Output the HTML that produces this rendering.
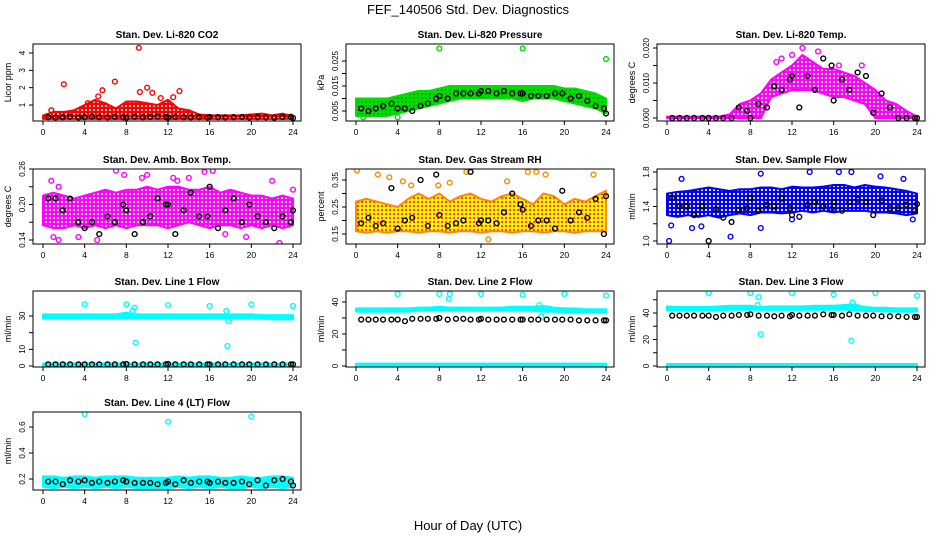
<!DOCTYPE html>
<html><head><meta charset="utf-8"><style>
body{margin:0;background:#fff;}
svg text{font-family:"Liberation Sans",sans-serif;}
</style></head><body>
<svg id="c" width="936" height="540" xmlns="http://www.w3.org/2000/svg">
<defs>
<pattern id="p-red" width="4" height="4" patternUnits="userSpaceOnUse"><rect width="4" height="4" fill="#f00"/><circle cx="2" cy="2" r="1" fill="#fff"/></pattern>
<pattern id="p-green" width="4" height="4" patternUnits="userSpaceOnUse"><rect width="4" height="4" fill="#0d0"/><circle cx="2" cy="2" r="0.7" fill="#050"/></pattern>
<pattern id="p-mag" width="4" height="4" patternUnits="userSpaceOnUse"><rect width="4" height="4" fill="#f0f"/><circle cx="2" cy="2" r="1.1" fill="#fff"/></pattern>
<pattern id="p-orange" width="4" height="4" patternUnits="userSpaceOnUse"><rect width="4" height="4" fill="#ff0"/><circle cx="2" cy="2" r="1.2" fill="#f33"/></pattern>
<pattern id="p-blue" width="4" height="4" patternUnits="userSpaceOnUse"><rect width="4" height="4" fill="#00f"/><circle cx="2" cy="2" r="1.1" fill="#fff"/></pattern>
<pattern id="p-cyan" width="4" height="4" patternUnits="userSpaceOnUse"><rect width="4" height="4" fill="#0ff"/></pattern>
</defs>
<text x="468" y="14" font-size="13" text-anchor="middle">FEF_140506  Std. Dev. Diagnostics</text>
<text x="468" y="530" font-size="13" text-anchor="middle">Hour of Day (UTC)</text>
</svg>
<script>
const bandH=[0,1,2,3,4,5,6,7,8,9,10,11,12,13,14,15,16,17,18,19,20,21,22,23,24];
const blackH=[0.5,1.2,1.9,2.6,3.4,4,4.7,5.4,6.2,6.9,7.7,8,8.8,9.6,10.3,11,11.8,12,12.7,13.5,14.2,15,15.8,16,16.8,17.5,18.3,19.1,19.8,20.6,21.4,22.2,23,23.8,24];
const xTicks=[0,4,8,12,16,20,24];

const co2Lo=[0.2,0.2,0.2,0.2,0.2,0.2,0.2,0.2,0.2,0.2,0.2,0.2,0.2,0.2,0.2,0.2,0.2,0.2,0.2,0.2,0.2,0.2,0.2,0.2,0.2];
const co2Hi=[0.4,0.6,0.6,0.7,1.0,1.3,1.1,0.8,1.2,1.2,1.1,1.0,1.3,0.8,0.7,0.45,0.4,0.4,0.4,0.4,0.45,0.5,0.4,0.5,0.35];
const co2OutH=[2,6.9,9.2,10,10.5,9.3,5.7,13.1,11.3,5.3,12.5,4.3,0.8];
const co2OutV=[2.2,2.35,4.3,2.0,1.7,1.75,1.85,1.8,1.4,1.5,1.45,1.1,0.7];
const co2Black=[0.3,0.28,0.3,0.32,0.28,0.3,0.33,0.3,0.29,0.31,0.3,0.27,0.32,0.3,0.31,0.33,0.3,0.28,0.31,0.3,0.29,0.3,0.28,0.31,0.3,0.29,0.3,0.31,0.28,0.3,0.29,0.27,0.31,0.32,0.25];

const presLo=[0.003,0.003,0.003,0.003,0.004,0.005,0.006,0.007,0.008,0.009,0.010,0.010,0.010,0.010,0.010,0.010,0.009,0.010,0.010,0.010,0.009,0.008,0.007,0.006,0.004];
const presHi=[0.010,0.010,0.010,0.010,0.011,0.012,0.013,0.013,0.014,0.015,0.015,0.015,0.015,0.015,0.015,0.015,0.015,0.015,0.015,0.015,0.014,0.014,0.013,0.012,0.010];
const presOutH=[8,16,24,0.7,4];
const presOutV=[0.030,0.030,0.0258,0.0025,0.0025];
const presBlack=[0.006,0.005,0.006,0.007,0.008,0.006,0.006,0.005,0.007,0.008,0.010,0.011,0.010,0.012,0.012,0.012,0.012,0.013,0.013,0.012,0.013,0.012,0.012,0.012,0.011,0.011,0.011,0.012,0.012,0.010,0.011,0.009,0.007,0.006,0.004];

const tempLo=[0,0,0,0,0,0,0,0,0,0,0.006,0.007,0.008,0.008,0.008,0.007,0.006,0.006,0.005,0.004,0,0,0,0,0];
const tempHi=[0.0004,0.0004,0.0004,0.0004,0.0004,0.0004,0.001,0.004,0.005,0.007,0.011,0.013,0.015,0.018,0.016,0.014,0.014,0.013,0.012,0.010,0.008,0.005,0.004,0.002,0.0004];
const tempOutH=[13,12,14.5,10.5,11,16.5,18.7];
const tempOutV=[0.020,0.018,0.019,0.016,0.017,0.015,0.015];
const tempBlack=[0,0,0,0,0,0,0,0,0,0.003,0.002,0,0.004,0.003,0.009,0.008,0.011,0.012,0.003,0.012,0.008,0.017,0.015,0.005,0.011,0.008,0.013,0.012,0.0015,0.007,0.003,0,0,0,0];

const ambLo=[0.165,0.16,0.16,0.165,0.16,0.165,0.16,0.165,0.16,0.165,0.165,0.165,0.16,0.165,0.17,0.165,0.16,0.165,0.165,0.16,0.165,0.16,0.165,0.16,0.165];
const ambHi=[0.215,0.22,0.215,0.21,0.215,0.22,0.225,0.22,0.225,0.225,0.23,0.225,0.23,0.23,0.225,0.225,0.23,0.22,0.225,0.22,0.215,0.215,0.21,0.215,0.21];
const ambOutH=[0.8,1.5,1,1.5,3.4,5.2,7,7.8,9.5,10,12.5,12.9,15.5,16.3,17.5,19.5,22,22.7,24,14];
const ambOutV=[0.24,0.23,0.145,0.14,0.145,0.14,0.257,0.25,0.245,0.25,0.245,0.24,0.255,0.257,0.15,0.145,0.24,0.135,0.225,0.245];
const ambBlack=[0.21,0.21,0.19,0.21,0.17,0.16,0.17,0.15,0.18,0.17,0.2,0.19,0.15,0.17,0.18,0.21,0.2,0.2,0.15,0.19,0.22,0.18,0.18,0.23,0.16,0.19,0.21,0.17,0.2,0.18,0.17,0.16,0.18,0.17,0.19];

const rhLo=[0.16,0.155,0.16,0.155,0.16,0.16,0.155,0.16,0.16,0.155,0.16,0.16,0.155,0.16,0.16,0.155,0.16,0.16,0.155,0.16,0.16,0.155,0.16,0.16,0.16];
const rhHi=[0.27,0.28,0.27,0.26,0.25,0.28,0.3,0.28,0.3,0.27,0.29,0.3,0.28,0.27,0.29,0.3,0.28,0.26,0.3,0.29,0.26,0.28,0.27,0.29,0.31];
const rhOutH=[0.1,2.1,4.5,5.3,10.6,12.7,14.5,17.3,18.2,22.8,16.5,9,3.2,7.9];
const rhOutV=[0.385,0.37,0.345,0.33,0.38,0.13,0.345,0.38,0.37,0.37,0.38,0.34,0.36,0.33];
const rhBlack=[0.19,0.21,0.18,0.19,0.32,0.17,0.2,0.21,0.35,0.18,0.37,0.22,0.18,0.19,0.2,0.38,0.19,0.2,0.2,0.19,0.23,0.3,0.26,0.24,0.18,0.2,0.2,0.17,0.31,0.2,0.23,0.21,0.28,0.15,0.29];

const flowLo=[1.3,1.28,1.3,1.28,1.3,1.27,1.3,1.32,1.3,1.33,1.33,1.32,1.33,1.35,1.33,1.35,1.33,1.35,1.35,1.35,1.33,1.33,1.32,1.3,1.32];
const flowHi=[1.55,1.57,1.58,1.6,1.62,1.6,1.58,1.6,1.6,1.62,1.62,1.6,1.63,1.62,1.62,1.63,1.65,1.65,1.62,1.65,1.63,1.62,1.6,1.58,1.55];
const flowOutH=[0.2,0.4,2.4,1.4,6.1,9,9,13.7,16.5,17.7,20.5,22.7,23.6,12,3.3];
const flowOutV=[1.0,1.18,1.15,1.72,1.05,1.78,1.15,1.8,1.8,1.8,1.75,1.72,1.25,1.25,1.17];
const flowBlack=[1.5,1.4,1.4,1.3,1.4,1.0,1.37,1.27,1.22,1.36,1.38,1.5,1.35,1.42,1.4,1.49,1.38,1.3,1.28,1.42,1.45,1.4,1.37,1.45,1.35,1.45,1.48,1.45,1.3,1.47,1.38,1.38,1.42,1.35,1.43];

const l1Lo=[28.5,28.5,28.5,28.5,28.5,28.5,28.5,28.5,28.5,28.5,28.5,28.5,28.5,28.5,28.5,28.5,28.5,28.5,28.5,28.5,28.5,28.5,28,28,28];
const l1Hi=[31,31,31,31,31,31,31,31,32,31,31,31,31,31,31,31,31,31,31,31,31,30.5,30.5,30.5,30.5];
const l1OutH=[4,8,12,16,20,24,8.8,8.9,17.7,17.8,17.6,8.6];
const l1OutV=[37,37,36.5,36,37,36,35,14,12,27,33,33];
const l1Black=[1,1,1,1,1,1,1,1,1,1,1,1.2,1,1,1,1,1,1.2,1,1,1,1,1,1,1,1,1,1,1,1,1,1,1,1,1];

const l2Lo=[34,34,34,34,34,34,34.5,34.5,34.5,34.5,34.5,34.5,34.5,34.5,34.5,34.5,34.5,34.5,34,34,33.5,33.5,33.5,33.5,33.5];
const l2Hi=[36,36,36,36,36,36,36.5,36.5,37,36.5,36.5,36.5,36.5,36.5,36.5,37,37,37,37.5,36.5,36,36,35.5,35.5,35.5];
const l2OutH=[4,8,9,12,16,20,24,8.9,17.6,17.8];
const l2OutV=[45,45,45,45,44.5,45,44,42,38,31];
const l2Black=[29,29,29,29,29,29,28,29.5,29.5,29.5,29.5,30,29,29.5,29.5,29,29,29.5,29,29,29,29,29,29,29,29,29,29,29,29,28.5,28.5,28.5,28.5,28.5];
const l2ZeroLo=[-0.5,-0.5,-0.5,-0.5,-0.5,-0.5,-0.5,-0.5,-0.5,-0.5,-0.5,-0.5,-0.5,-0.5,-0.5,-0.5,-0.5,-0.5,-0.5,-0.5,-0.5,-0.5,-0.5,-0.5,-0.5];
const l2ZeroHi=[1.5,1.5,1.5,1.5,1.5,1.5,1.5,1.5,1.5,1.5,1.5,1.5,1.5,1.5,1.5,1.5,1.5,1.5,1.5,1.5,1.5,1.5,1.5,1.5,1.5];

const l3Lo=[42,42,42,42,42,42,42.5,42.5,42.5,42.5,42.5,42.5,42.5,42.5,42.5,42.5,42.5,42.5,42,41.5,41.5,41,41,41,41];
const l3Hi=[45,44.5,44.5,44.5,44.5,45,45.5,45.5,45.5,44.5,45,45,45,45,45.5,45.5,45.5,46,46.5,44.5,44,44,43.5,43.5,43.5];
const l3OutH=[4,8,12,16,20,24,9,17.7,8.8,17.8,8.7];
const l3OutV=[55,55,55,54,55,53,24,19,52,48,46];
const l3Black=[38,38,38,38,38,38,37,38,38,38.5,38.5,39,38,38,37.5,38,37.5,38.5,38,38,38,39,38.5,38.5,38,39,38,38,38,37.5,37.5,37.5,37,37,37];
const l3ZeroLo=[-0.5,-0.5,-0.5,-0.5,-0.5,-0.5,-0.5,-0.5,-0.5,-0.5,-0.5,-0.5,-0.5,-0.5,-0.5,-0.5,-0.5,-0.5,-0.5,-0.5,-0.5,-0.5,-0.5,-0.5,-0.5];
const l3ZeroHi=[1.5,1.5,1.5,1.5,1.5,1.5,1.5,1.5,1.5,1.5,1.5,1.5,1.5,1.5,1.5,1.5,1.5,1.5,1.5,1.5,1.5,1.5,1.5,1.5,1.5];

const l4Lo=[0.14,0.13,0.14,0.13,0.14,0.13,0.14,0.13,0.14,0.13,0.13,0.13,0.13,0.14,0.13,0.14,0.13,0.14,0.13,0.13,0.14,0.13,0.14,0.13,0.14];
const l4Hi=[0.22,0.22,0.21,0.22,0.22,0.21,0.22,0.22,0.22,0.21,0.21,0.21,0.21,0.22,0.21,0.22,0.22,0.21,0.21,0.22,0.21,0.21,0.22,0.22,0.21];
const l4OutH=[4,12,20];
const l4OutV=[0.70,0.64,0.68];
const l4Black=[0.18,0.18,0.16,0.19,0.18,0.19,0.17,0.18,0.17,0.18,0.19,0.18,0.17,0.17,0.17,0.16,0.17,0.18,0.16,0.19,0.17,0.18,0.18,0.17,0.18,0.17,0.17,0.18,0.16,0.19,0.15,0.19,0.2,0.18,0.15];

const svg=document.getElementById('c');
const NS='http://www.w3.org/2000/svg';
function mk(tag,attrs,parent){const e=document.createElementNS(NS,tag);for(const k in attrs)e.setAttribute(k,attrs[k]);(parent||svg).appendChild(e);return e;}

const colLeft=[33,346,657];
const rowBox=[[44,121],[169,244],[291,367],[412,490]];
const panels=[
 {key:'co2',c:0,r:0,title:'Stan. Dev. Li-820 CO2',yl:'Licor ppm',v1:1,y1:105,v2:4,y2:53,ticks:[1,2,3,4],tl:['1','2','3','4'],col:'#f00',pat:'p-red',lo:co2Lo,hi:co2Hi,oh:co2OutH,ov:co2OutV,bk:co2Black},
 {key:'pressure',c:1,r:0,title:'Stan. Dev. Li-820 Pressure',yl:'kPa',v1:0.005,y1:111,v2:0.025,y2:61,ticks:[0.005,0.010,0.015,0.020,0.025],tl:['0.005','','0.015','','0.025'],col:'#0d0',pat:'p-green',lo:presLo,hi:presHi,oh:presOutH,ov:presOutV,bk:presBlack},
 {key:'li820-temp',c:2,r:0,title:'Stan. Dev. Li-820 Temp.',yl:'degrees C',v1:0,y1:118,v2:0.02,y2:48,ticks:[0,0.005,0.01,0.015,0.02],tl:['0.000','','0.010','','0.020'],col:'#f0f',pat:'p-mag',lo:tempLo,hi:tempHi,oh:tempOutH,ov:tempOutV,bk:tempBlack},
 {key:'amb-box-temp',c:0,r:1,title:'Stan. Dev. Amb. Box Temp.',yl:'degrees C',v1:0.14,y1:240,v2:0.26,y2:169,ticks:[0.14,0.17,0.2,0.23,0.26],tl:['0.14','','0.20','','0.26'],col:'#f0f',pat:'p-mag',lo:ambLo,hi:ambHi,oh:ambOutH,ov:ambOutV,bk:ambBlack},
 {key:'gas-rh',c:1,r:1,title:'Stan. Dev. Gas Stream RH',yl:'percent',v1:0.15,y1:234,v2:0.35,y2:180,ticks:[0.15,0.2,0.25,0.3,0.35],tl:['0.15','','0.25','','0.35'],col:'#f80',pat:'p-orange',lo:rhLo,hi:rhHi,oh:rhOutH,ov:rhOutV,bk:rhBlack},
 {key:'sample-flow',c:2,r:1,title:'Stan. Dev. Sample Flow',yl:'ml/min',v1:1.0,y1:241,v2:1.8,y2:172,ticks:[1.0,1.2,1.4,1.6,1.8],tl:['1.0','','1.4','','1.8'],col:'#00f',pat:'p-blue',lo:flowLo,hi:flowHi,oh:flowOutH,ov:flowOutV,bk:flowBlack},
 {key:'line1-flow',c:0,r:2,title:'Stan. Dev. Line 1 Flow',yl:'ml/min',v1:0,y1:366,v2:30,y2:316,ticks:[0,10,20,30],tl:['0','10','','30'],col:'#0ff',pat:'p-cyan',lo:l1Lo,hi:l1Hi,oh:l1OutH,ov:l1OutV,bk:l1Black,zlo:l2ZeroLo,zhi:l2ZeroHi},
 {key:'line2-flow',c:1,r:2,title:'Stan. Dev. Line 2 Flow',yl:'ml/min',v1:0,y1:366,v2:40,y2:302,ticks:[0,10,20,30,40],tl:['0','','20','','40'],col:'#0ff',pat:'p-cyan',lo:l2Lo,hi:l2Hi,oh:l2OutH,ov:l2OutV,bk:l2Black,zlo:l2ZeroLo,zhi:l2ZeroHi},
 {key:'line3-flow',c:2,r:2,title:'Stan. Dev. Line 3 Flow',yl:'ml/min',v1:0,y1:366,v2:40,y2:313,ticks:[0,10,20,30,40,50],tl:['0','','20','','40',''],col:'#0ff',pat:'p-cyan',lo:l3Lo,hi:l3Hi,oh:l3OutH,ov:l3OutV,bk:l3Black,zlo:l3ZeroLo,zhi:l3ZeroHi},
 {key:'line4-flow',c:0,r:3,title:'Stan. Dev. Line 4 (LT) Flow',yl:'ml/min',v1:0.2,y1:479,v2:0.6,y2:427,ticks:[0.2,0.4,0.6],tl:['0.2','0.4','0.6'],col:'#0ff',pat:'p-cyan',lo:l4Lo,hi:l4Hi,oh:l4OutH,ov:l4OutV,bk:l4Black}
];

panels.forEach(p=>{
  const L=colLeft[p.c], R=L+268, T=rowBox[p.r][0], B=rowBox[p.r][1];
  const xs=h=>L+10+h*(250/24);
  const ys=v=>p.y1+(v-p.v1)*(p.y2-p.y1)/(p.v2-p.v1);
  const g=mk('g',{});
  
  
  const cp=mk('clipPath',{id:'clip-'+p.key},g);
  mk('rect',{x:L,y:T,width:R-L,height:B-T},cp);
  const pg=mk('g',{'clip-path':'url(#clip-'+p.key+')'},g);
  function band(lo,hi,name){
    let pts=bandH.map((h,i)=>xs(h)+','+ys(hi[i]));
    for(let i=bandH.length-1;i>=0;i--)pts.push(xs(bandH[i])+','+ys(lo[i]));
    const e=mk('polygon',{points:pts.join(' '),fill:'url(#'+p.pat+')',stroke:p.col,'stroke-width':2,'stroke-linejoin':'round'},pg);
    
    
  }
  if(p.zlo)band(p.zlo,p.zhi,'zero-cloud');
  band(p.lo,p.hi,'point-cloud');
  p.oh.forEach((h,i)=>{
    const e=mk('circle',{cx:xs(h),cy:ys(p.ov[i]),r:2.4,fill:'none',stroke:p.col,'stroke-width':1.4},pg);
    
    
  });
  blackH.forEach((h,i)=>{
    const e=mk('circle',{cx:xs(h),cy:ys(p.bk[i]),r:2.4,fill:'none',stroke:'#000','stroke-width':1.4},pg);
    
    
  });
  const box=mk('rect',{x:L,y:T,width:R-L,height:B-T,fill:'none',stroke:'#000','stroke-width':1},g);
  
  
  const t=mk('text',{x:(L+R)/2,y:T-6,'font-size':10,'font-weight':'bold','text-anchor':'middle'},g);
  t.textContent=p.title;
  
  
  xTicks.forEach(h=>{
    mk('line',{x1:xs(h),x2:xs(h),y1:B,y2:B+4,stroke:'#000'},g);
    const tx=mk('text',{x:xs(h),y:B+14,'font-size':8.5,'text-anchor':'middle'},g);
    tx.textContent=h;
    
    
  });
  p.ticks.forEach((v,i)=>{
    const y=ys(v);
    if(y<T-1||y>B+1)return;
    mk('line',{x1:L-4,x2:L,y1:y,y2:y,stroke:'#000'},g);
    if(p.tl[i]){
      const ty=mk('text',{x:L-8,y:y,'font-size':8,'text-anchor':'middle',transform:'rotate(-90 '+(L-8)+' '+y+')'},g);
      ty.textContent=p.tl[i];
      
      
    }
  });
  const yx=L-22, ym=(T+B)/2;
  const yl=mk('text',{x:yx,y:ym,'font-size':9,'text-anchor':'middle',transform:'rotate(-90 '+yx+' '+ym+')'},g);
  yl.textContent=p.yl;
  
  
});
</script>
</body></html>
